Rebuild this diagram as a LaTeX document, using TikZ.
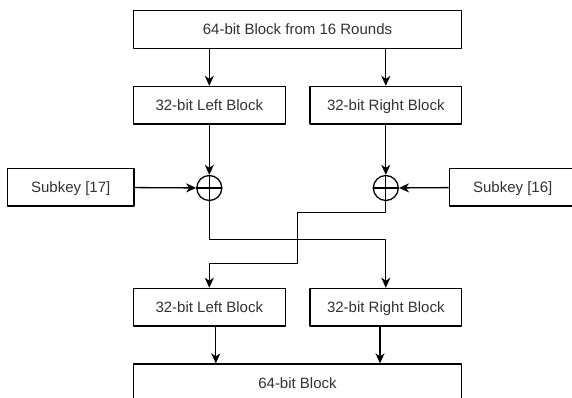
\documentclass[tikz,border=0pt]{standalone}
\usepackage{fontspec}
\setmainfont{Liberation Sans}
\usepackage{tikz}
\usetikzlibrary{arrows.meta, positioning, calc}

\begin{document}
\begin{tikzpicture}[>={Stealth[length=10pt,width=9pt,inset=3pt]}, x=1pt, y=-1pt,
    line join=round,
    blockbox/.style={draw, line width=1.3pt, rectangle, inner sep=0pt,
        minimum width=#1, minimum height=37.6pt,
        text height=10.7pt, text depth=0pt,
        font=\fontsize{15}{17}\selectfont, text=black!80},
    blockbox/.default=151.7pt,
    xorgate/.style={draw, line width=1.3pt, circle, inner sep=0pt, minimum size=25pt},
    link/.style={->, line width=1.3pt}]

    % Frame
    \useasboundingbox (0,0) rectangle (572,398);
    \clip (0,0) rectangle (572,398);

    % Input block and halves
    \node[blockbox=328.4pt] (input) at (297.5,29.5) {64-bit Block from 16 Rounds};
    \node[blockbox] (lhalf) at (209.3,105.3) {32-bit Left Block};
    \node[blockbox] (rhalf) at (385.8,105.3) {32-bit Right Block};

    % XOR gates and subkeys
    \node[xorgate] (xorl) at (209.3,188) {};
    \node[xorgate] (xorr) at (385.8,188) {};
    \node[blockbox=126.7pt] (keyl) at (70.7,187.2) {Subkey [17]};
    \node[blockbox=126.7pt] (keyr) at (512.7,187.2) {Subkey [16]};
    \foreach \g in {xorl, xorr}{
        \draw[line width=1.3pt] (\g.north) -- (\g.south);
        \draw[line width=1.3pt] (\g.west) -- (\g.east);
    }

    % Output halves and block
    \node[blockbox] (lout) at (209.3,307.2) {32-bit Left Block};
    \node[blockbox] (rout) at (385.8,307.2) {32-bit Right Block};
    \node[blockbox=328.4pt, minimum height=38pt] (output) at (297.5,383) {64-bit Block};

    % Split
    \draw[link] (input.south -| lhalf) -- (lhalf);
    \draw[link] (input.south -| rhalf) -- (rhalf);
    \draw[link] (lhalf) -- (xorl);
    \draw[link] (rhalf) -- (xorr);
    \draw[link] (keyl) -- (xorl);
    \draw[link] (keyr) -- (xorr);

    % Swap
    \coordinate (bendtop) at (297.7,212.3);
    \coordinate (bendbot) at (297.7,263.3);
    \draw[link] (xorl.south) -- ++(0,38) -| (rout.north);
    \draw[link] (xorr.south) |- (bendtop) -- (bendbot) -| (lout.north);

    % Join
    \draw[link] ([xshift=6.5pt]lout.south) -- ([xshift=6.5pt]lout.south |- output.north);
    \draw[link] ([xshift=-5.8pt]rout.south) -- ([xshift=-5.8pt]rout.south |- output.north);

\end{tikzpicture}
\end{document}
